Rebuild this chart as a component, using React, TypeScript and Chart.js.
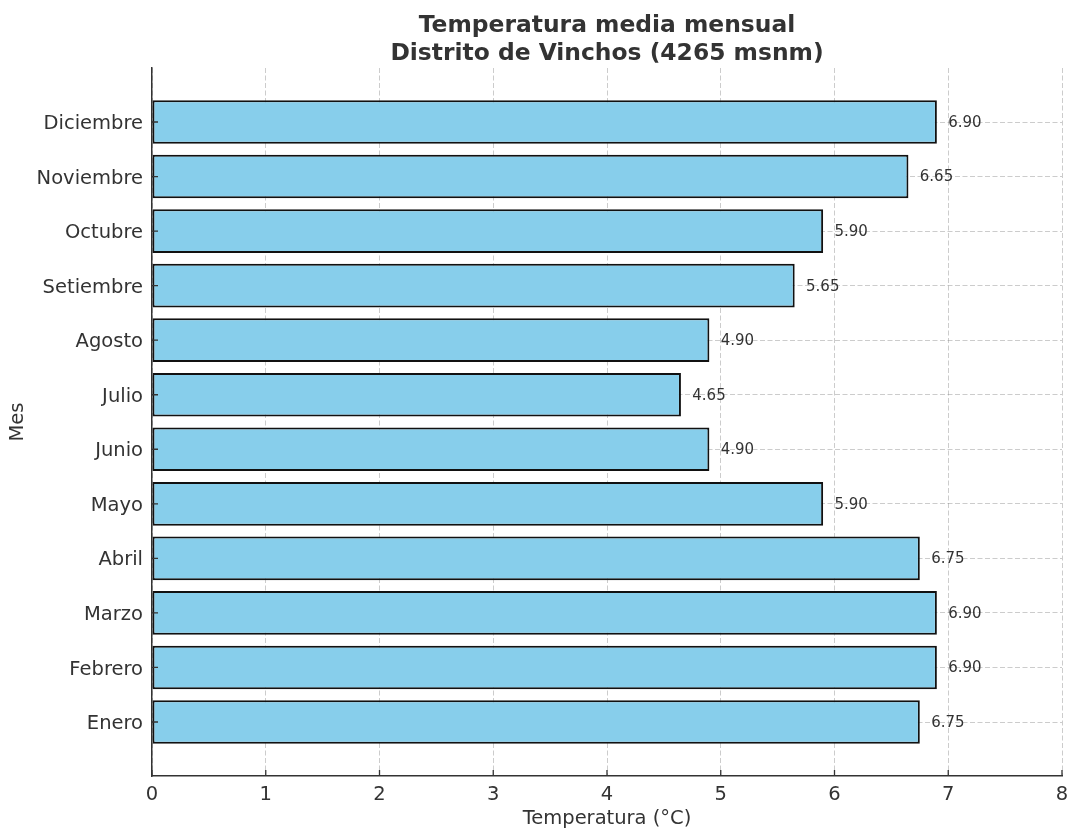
import React, { useEffect, useRef } from "react";
import { Chart, registerables } from "chart.js";

Chart.register(...registerables);

const months = [
  "Enero", "Febrero", "Marzo", "Abril", "Mayo", "Junio",
  "Julio", "Agosto", "Setiembre", "Octubre", "Noviembre", "Diciembre",
];
const temps = [6.75, 6.9, 6.9, 6.75, 5.9, 4.9, 4.65, 4.9, 5.65, 5.9, 6.65, 6.9];
const xTicks = [0, 1, 2, 3, 4, 5, 6, 7, 8];
const titleLines = ["Temperatura media mensual", "Distrito de Vinchos (4265 msnm)"];
const xTitle = "Temperatura (°C)";
const yTitle = "Mes";

const FONT = "'DejaVu Sans', sans-serif";
const TEXT = "#333333";
const GRID = "rgba(128,128,128,0.4)";

export default function App() {
  const ref = useRef<HTMLCanvasElement | null>(null);

  useEffect(() => {
    document.body.style.margin = "0";
    const canvas = ref.current;
    if (!canvas) return;

    const titlePlugin = {
      id: "customTitle",
      afterDraw(chart: any) {
        const { ctx, chartArea } = chart;
        const cx = (chartArea.left + chartArea.right) / 2;
        ctx.save();
        ctx.fillStyle = TEXT;
        ctx.font = `bold 23.4px ${FONT}`;
        ctx.textAlign = "center";
        ctx.textBaseline = "alphabetic";
        ctx.fillText(titleLines[0], cx, 32);
        ctx.fillText(titleLines[1], cx, 60);
        ctx.restore();
      },
    };

    const innerTicks = {
      id: "innerTicks",
      afterDraw(chart: any) {
        const { ctx, chartArea, scales } = chart;
        ctx.save();
        ctx.strokeStyle = "#333333";
        ctx.lineWidth = 1.3;
        ctx.beginPath();
        scales.x.ticks.forEach((t: any) => {
          const px = scales.x.getPixelForValue(t.value);
          ctx.moveTo(px, chartArea.bottom);
          ctx.lineTo(px, chartArea.bottom - 6);
        });
        scales.y.ticks.forEach((t: any) => {
          const py = scales.y.getPixelForValue(t.value);
          ctx.moveTo(chartArea.left, py);
          ctx.lineTo(chartArea.left + 6, py);
        });
        ctx.stroke();
        ctx.restore();
      },
    };

    const labelPlugin = {
      id: "valueLabels",
      afterDatasetsDraw(chart: any) {
        const { ctx } = chart;
        const meta = chart.getDatasetMeta(0);
        const xs = chart.scales.x;
        ctx.save();
        ctx.fillStyle = TEXT;
        ctx.font = `15px ${FONT}`;
        ctx.textAlign = "left";
        ctx.textBaseline = "middle";
        meta.data.forEach((el: any, i: number) => {
          const v = temps[i];
          ctx.fillText(v.toFixed(2), xs.getPixelForValue(v + 0.1), el.y + 1);
        });
        ctx.restore();
      },
    };

    const chart = new Chart(canvas, {
      type: "bar",
      data: {
        datasets: [
          {
            data: temps.map((v, i) => ({ x: v, y: i })),
            backgroundColor: "#87CEEB",
            borderColor: "#111111",
            borderWidth: 2,
            borderSkipped: false,
            barPercentage: 1,
            categoryPercentage: 0.8,
          },
        ],
      },
      options: {
        indexAxis: "y",
        animation: false,
        responsive: true,
        maintainAspectRatio: false,
        layout: { padding: { top: 68, right: 6, bottom: 0, left: 0 }, autoPadding: false },
        plugins: {
          legend: { display: false },
          title: { display: false },
          tooltip: { enabled: false },
        },
        scales: {
          x: {
            type: "linear",
            min: 0,
            max: 8,
            z: 1,
            afterBuildTicks: (scale: any) => {
              scale.ticks = xTicks.map((v) => ({ value: v }));
            },
            afterFit: (scale: any) => {
              scale.height = 52;
              scale.paddingLeft = 0;
              scale.paddingRight = 0;
            },
            ticks: {
              color: TEXT,
              font: { family: FONT, size: 19.5 },
              padding: 7,
              maxRotation: 0,
            },
            grid: {
              color: GRID,
              lineWidth: 1,
              drawTicks: false,
            },
            border: { display: true, color: "#333333", width: 1.5, dash: [5, 2.5] },
            title: {
              display: true,
              text: xTitle,
              color: TEXT,
              font: { family: FONT, size: 19.5 },
              padding: { top: 0, bottom: -3 },
            },
          },
          y: {
            type: "linear",
            min: -0.99,
            max: 11.99,
            offset: false,
            z: 1,
            afterBuildTicks: (scale: any) => {
              scale.ticks = months.map((_, i) => ({ value: i }));
            },
            afterFit: (scale: any) => {
              scale.width = 152;
              scale.paddingTop = 0;
              scale.paddingBottom = 0;
            },
            ticks: {
              color: TEXT,
              font: { family: FONT, size: 19.5 },
              padding: 9,
              labelOffset: 2,
              callback: (v: any) => months[Math.round(Number(v))] ?? "",
            },
            grid: {
              offset: false,
              color: GRID,
              lineWidth: 1,
              drawTicks: false,
            },
            border: { display: true, color: "#333333", width: 1.5, dash: [5, 2.5] },
            title: {
              display: true,
              text: yTitle,
              color: TEXT,
              font: { family: FONT, size: 19.5 },
              padding: { top: 6, bottom: 0 },
            },
          },
        },
      },
      plugins: [titlePlugin, labelPlugin, innerTicks],
    } as any);

    return () => chart.destroy();
  }, []);

  return (
    <div style={{ position: "fixed", left: 0, top: 0, width: 1068, height: 828 }}>
      <canvas ref={ref} />
    </div>
  );
}
